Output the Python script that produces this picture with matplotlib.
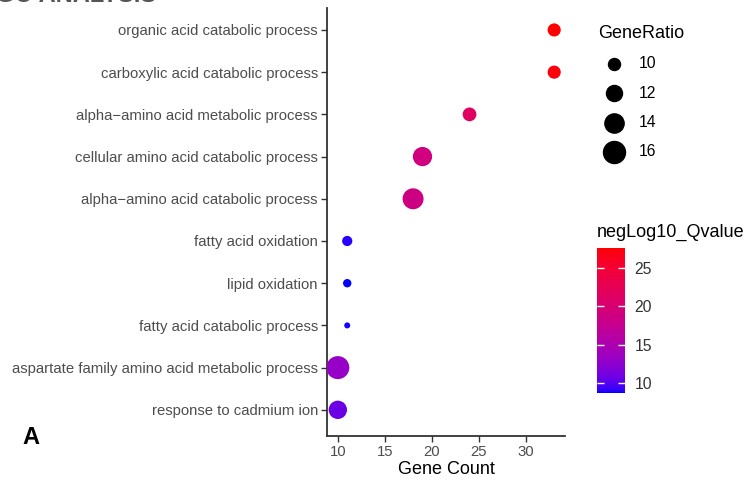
import numpy as np
import matplotlib
matplotlib.use("Agg")
import matplotlib.pyplot as plt
from matplotlib.colors import ListedColormap, Normalize

# ─────────────────────────────────────────────
# Daten
# ─────────────────────────────────────────────
terms = [
    "organic acid catabolic process",
    "carboxylic acid catabolic process",
    "alpha\u2212amino acid metabolic process",
    "cellular amino acid catabolic process",
    "alpha\u2212amino acid catabolic process",
    "fatty acid oxidation",
    "lipid oxidation",
    "fatty acid catabolic process",
    "aspartate family amino acid metabolic process",
    "response to cadmium ion",
]
gene_count = [33, 33, 24, 19, 18, 11, 11, 11, 10, 10]
gene_ratio = [10.5, 10.5, 10.8, 14.0, 15.2, 9.3, 8.7, 8.1, 16.8, 13.4]
qvalue_neglog = [27.6, 27.2, 21.5, 19.0, 18.7, 9.0, 8.7, 8.8, 13.2, 10.8]

legend_sizes = [10, 12, 14, 16]
cbar_ticks = [10, 15, 20, 25]

GREY = "#4D4D4D"
FONT = ["Liberation Sans", "DejaVu Sans"]
plt.rcParams["font.family"] = FONT


def srgb_to_lab(rgb):
    c = np.asarray(rgb, float)
    c = np.where(c > 0.04045, ((c + 0.055) / 1.055) ** 2.4, c / 12.92)
    m = np.array([[0.4124, 0.3576, 0.1805],
                  [0.2126, 0.7152, 0.0722],
                  [0.0193, 0.1192, 0.9505]])
    xyz = m @ c / np.array([0.95047, 1.0, 1.08883])
    f = np.where(xyz > 0.008856, np.cbrt(xyz), 7.787 * xyz + 16 / 116)
    return np.array([116 * f[1] - 16, 500 * (f[0] - f[1]), 200 * (f[1] - f[2])])


def lab_to_srgb(lab):
    L, a, b = lab
    fy = (L + 16) / 116
    fx = fy + a / 500
    fz = fy - b / 200
    f = np.array([fx, fy, fz])
    xyz = np.where(f ** 3 > 0.008856, f ** 3, (f - 16 / 116) / 7.787)
    xyz = xyz * np.array([0.95047, 1.0, 1.08883])
    m = np.array([[3.2406, -1.5372, -0.4986],
                  [-0.9689, 1.8758, 0.0415],
                  [0.0557, -0.2040, 1.0570]])
    c = m @ xyz
    c = np.where(c > 0.0031308, 1.055 * np.clip(c, 0, None) ** (1 / 2.4) - 0.055, 12.92 * c)
    return np.clip(c, 0, 1)


# blau -> rot, im Lab-Raum interpoliert (wie ggplot scale_colour_gradient)
lab_lo = srgb_to_lab([0, 0, 1])
lab_hi = srgb_to_lab([1, 0, 0])
cmap = ListedColormap([lab_to_srgb(lab_lo + t * (lab_hi - lab_lo))
                       for t in np.linspace(0, 1, 256)])
norm = Normalize(vmin=min(qvalue_neglog), vmax=max(qvalue_neglog))


def marker_area(v):
    # Flaeche proportional zum Wert (px -> pt bei 100 dpi)
    d2 = 56.7 * (np.asarray(v, float) - 7.46)
    return d2 * 0.72 ** 2


fig = plt.figure(figsize=(7.47, 4.80), dpi=100)
ax = fig.add_axes([327 / 747, 1 - 436 / 480, 238 / 747, 428 / 480])

ypos = np.arange(len(terms))[::-1]
ax.scatter(gene_count, ypos, s=marker_area(gene_ratio), c=qvalue_neglog,
           cmap=cmap, norm=norm, edgecolors="none", zorder=3)

ax.set_xlim(8.85, 34.15)
ax.set_ylim(-0.62, len(terms) - 1 + 0.52)
ax.set_xticks([10, 15, 20, 25, 30])
ax.set_yticks(ypos)
ax.set_yticklabels(terms)
ax.tick_params(axis="both", colors="#333333", labelcolor=GREY, labelsize=10.7,
               length=4, width=1, pad=2.5)
ax.set_xlabel("Gene Count", fontsize=13, color="black", labelpad=1.5)
for side in ["top", "right"]:
    ax.spines[side].set_visible(False)
for side in ["left", "bottom"]:
    ax.spines[side].set_color("#333333")
    ax.spines[side].set_linewidth(1.3)

# Groessenlegende
handles = [ax.scatter([], [], s=marker_area(v), color="black") for v in legend_sizes]
leg = fig.legend(handles, [str(v) for v in legend_sizes], title="GeneRatio",
                 loc="upper left", bbox_to_anchor=(592 / 747, 1 - 19 / 480),
                 frameon=False, fontsize=11.3, title_fontsize=13,
                 labelspacing=0.92, handletextpad=0.6, borderaxespad=0)
leg._legend_box.align = "left"
leg._legend_box.sep = 10

# Farblegende
cax = fig.add_axes([597 / 747, 1 - 393 / 480, 28 / 747, 145 / 480])
sm = plt.cm.ScalarMappable(cmap=cmap, norm=norm)
cb = fig.colorbar(sm, cax=cax, ticks=cbar_ticks)
cb.outline.set_visible(False)
cax.yaxis.set_ticks_position("both")
cax.tick_params(direction="in", length=5, width=1, colors="white", pad=7,
                labelcolor="#333333", labelsize=11.3, labelright=True, labelleft=False)
fig.text(597 / 747, 1 - 232 / 480, "negLog10_Qvalue", fontsize=13,
         va="center", ha="left")

fig.text(22 / 747, 1 - 437 / 480, "A", fontsize=17, fontweight="bold",
         family=["Liberation Sans Narrow", "Liberation Sans"],
         va="center", ha="left")

# abgeschnittener Titel am oberen Rand (im Original nur unterer Rand sichtbar)
fig.text(-0.005, 1 - 1.5 / 480, "GO ANALYSIS", fontsize=17, fontweight="bold",
         color="#555555", va="baseline", ha="left")

fig.savefig("out.png", dpi=100, facecolor="white")
